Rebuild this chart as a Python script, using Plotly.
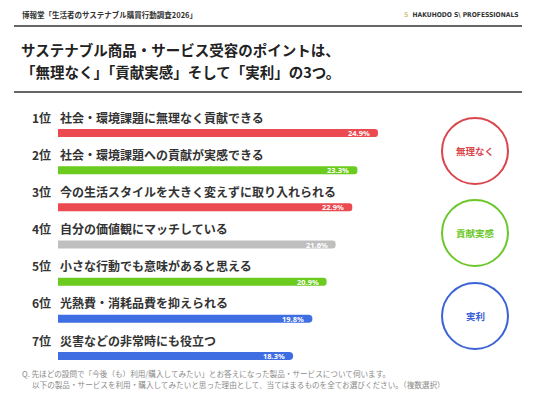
import plotly.graph_objects as go

W, H = 536, 402

ranks = [1, 2, 3, 4, 5, 6, 7]
rank_labels = ["1位", "2位", "3位", "4位", "5位", "6位", "7位"]
items = [
    "社会・環境課題に無理なく貢献できる",
    "社会・環境課題への貢献が実感できる",
    "今の生活スタイルを大きく変えずに取り入れられる",
    "自分の価値観にマッチしている",
    "小さな行動でも意味があると思える",
    "光熱費・消耗品費を抑えられる",
    "災害などの非常時にも役立つ",
]
values = [24.9, 23.3, 22.9, 21.6, 20.9, 19.8, 18.3]
groups = ["red", "green", "red", "gray", "green", "blue", "blue"]

bar_colors = {"red": "#EA4A50", "green": "#6BCB1F", "gray": "#BFBFBF", "blue": "#3F6DE2"}
circle_labels = ["無理なく", "貢献実感", "実利"]
circle_colors = ["#D9464B", "#6CC72A", "#3B62D6"]

title_lines = ["サステナブル商品・サービス受容のポイントは、",
               "「無理なく」「貢献実感」そして「実利」の3つ。"]
header = "博報堂「生活者のサステナブル購買行動調査2026」"
logo = "HAKUHODO S\\ PROFESSIONALS"
notes = ["Q. 先ほどの設問で「今後（も）利用/購入してみたい」とお答えになった製品・サービスについて伺います。",
         "以下の製品・サービスを利用・購入してみたいと思った理由として、当てはまるものを全てお選びください。（複数選択）"]

JP = "Noto Sans CJK JP"


def px(x):
    return x / W


def py(y):
    return 1 - y / H


fig = go.Figure()
fig.add_trace(go.Bar(
    x=values, y=ranks, orientation="h",
    marker=dict(color=[bar_colors[g] for g in groups], cornerradius="50%", line=dict(width=0)),
    width=0.215, hoverinfo="skip",
))

ann = []
ann.append(dict(text=header, x=px(20), y=py(15), xref="paper", yref="paper", xanchor="left",
                yanchor="middle", showarrow=False, font=dict(family=JP, size=7.5, color="#333333", weight="bold")))
ann.append(dict(text="<span style='color:#D8C580'>S</span>  " + logo, x=px(521), y=py(15), xref="paper",
                yref="paper", xanchor="right", yanchor="middle", showarrow=False,
                font=dict(family="DejaVu Sans Condensed", size=6.7, color="#333333", weight="bold")))
for i, (line, yy) in enumerate(zip(title_lines, [50, 72])):
    ann.append(dict(text=line, x=px(19), y=py(yy), xref="paper", yref="paper", xanchor="left",
                    yanchor="middle", showarrow=False, font=dict(family=JP, size=14.5, color="#222222", weight="bold")))

for r, rl, it, v in zip(ranks, rank_labels, items, values):
    ann.append(dict(text=rl, x=px(30), y=r - 0.43, xref="paper", yref="y", xanchor="left", yanchor="middle",
                    showarrow=False, font=dict(family=JP, size=12, color="#333333", weight="bold")))
    ann.append(dict(text=it, x=0, y=r - 0.43, xref="x", yref="y", xanchor="left", yanchor="middle", xshift=0,
                    showarrow=False, font=dict(family=JP, size=12, color="#333333", weight="bold")))
    ann.append(dict(text=f"{v}%", x=v, y=r, xref="x", yref="y", xanchor="right", yanchor="middle", xshift=-6,
                    showarrow=False, font=dict(family="Noto Sans", size=7.5, color="#FFFFFF", weight="bold")))

shapes = []
for yy in [26, 92]:
    shapes.append(dict(type="line", xref="paper", yref="paper", x0=px(14), x1=px(522), y0=py(yy), y1=py(yy),
                       line=dict(color="#333333", width=1.5)))

for lab, col, cy in zip(circle_labels, circle_colors, [151, 233, 316]):
    shapes.append(dict(type="circle", xref="paper", yref="paper", xsizemode="pixel", ysizemode="pixel",
                       xanchor=px(475), yanchor=py(cy), x0=-33, x1=33, y0=-33, y1=33,
                       line=dict(color=col, width=2), fillcolor="rgba(0,0,0,0)"))
    ann.append(dict(text=lab, x=px(475), y=py(cy), xref="paper", yref="paper", xanchor="center", yanchor="middle",
                    showarrow=False, font=dict(family=JP, size=9.5, color=col, weight="bold")))

for line, xx, yy in zip(notes, [20, 30], [373, 384]):
    ann.append(dict(text=line, x=px(xx), y=py(yy), xref="paper", yref="paper", xanchor="left", yanchor="middle",
                    showarrow=False, font=dict(family=JP, size=7.6, color="#8A8A8A")))

fig.update_layout(
    width=W, height=H, autosize=False,
    margin=dict(l=0, r=0, t=0, b=0),
    paper_bgcolor="white", plot_bgcolor="white",
    showlegend=False,
    xaxis=dict(domain=[58 / W, (58 + 30 * 12.85) / W], range=[0, 30], visible=False, fixedrange=True),
    yaxis=dict(domain=[0, 1], range=[8.237, -2.578], visible=False, fixedrange=True),
    annotations=ann, shapes=shapes,
)

fig.write_html("out.html", config={"displayModeBar": False},
               post_script="document.body.style.margin='0';document.body.style.overflow='hidden';")
